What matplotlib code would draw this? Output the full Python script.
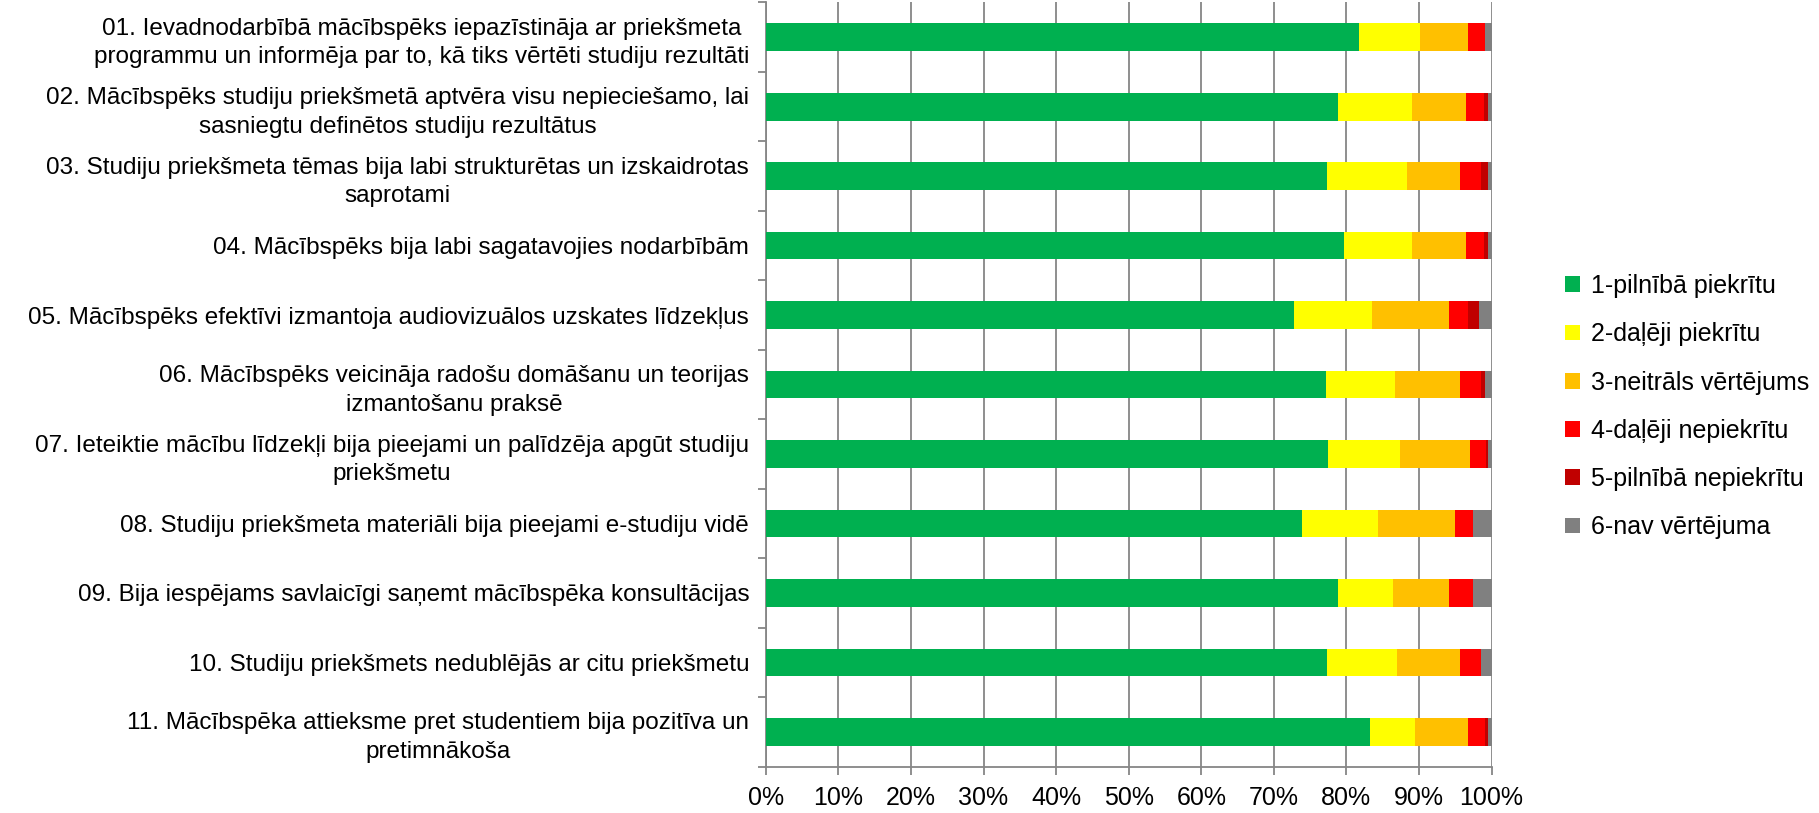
import numpy as np
import matplotlib
matplotlib.use("Agg")
import matplotlib.pyplot as plt
from matplotlib.ticker import PercentFormatter

plt.rcParams['font.family'] = ['Liberation Sans Narrow', 'Liberation Sans', 'DejaVu Sans']

questions = [
    "01. Ievadnodarbībā mācībspēks iepazīstināja ar priekšmeta\nprogrammu un informēja par to, kā tiks vērtēti studiju rezultāti",
    "02. Mācībspēks studiju priekšmetā aptvēra visu nepieciešamo, lai\nsasniegtu definētos studiju rezultātus",
    "03. Studiju priekšmeta tēmas bija labi strukturētas un izskaidrotas\nsaprotami",
    "04. Mācībspēks bija labi sagatavojies nodarbībām",
    "05. Mācībspēks efektīvi izmantoja audiovizuālos uzskates līdzekļus",
    "06. Mācībspēks veicināja radošu domāšanu un teorijas\nizmantošanu praksē",
    "07. Ieteiktie mācību līdzekļi bija pieejami un palīdzēja apgūt studiju\npriekšmetu",
    "08. Studiju priekšmeta materiāli bija pieejami e-studiju vidē",
    "09. Bija iespējams savlaicīgi saņemt mācībspēka konsultācijas",
    "10. Studiju priekšmets nedublējās ar citu priekšmetu",
    "11. Mācībspēka attieksme pret studentiem bija pozitīva un\npretimnākoša",
]

answers = ["1-pilnībā piekrītu", "2-daļēji piekrītu", "3-neitrāls vērtējums",
           "4-daļēji nepiekrītu", "5-pilnībā nepiekrītu", "6-nav vērtējuma"]
colors = ["#00B050", "#FFFF00", "#FFC000", "#FF0000", "#C00000", "#808080"]

# percent per answer, one list per question (01..11)
full_agree = [81.7, 78.9, 77.3, 79.7, 72.8, 77.2, 77.5, 73.9, 78.9, 77.3, 83.3]
part_agree = [8.5, 10.2, 11.0, 9.3, 10.7, 9.5, 9.9, 10.4, 7.5, 9.6, 6.2]
neutral = [6.6, 7.4, 7.3, 7.5, 10.7, 9.0, 9.6, 10.6, 7.8, 8.8, 7.2]
part_disagree = [2.3, 2.5, 2.9, 2.5, 2.6, 2.8, 2.3, 2.6, 3.3, 2.8, 2.4]
full_disagree = [0.0, 0.5, 1.0, 0.5, 1.5, 0.6, 0.2, 0.0, 0.0, 0.0, 0.4]
no_answer = [0.9, 0.5, 0.5, 0.5, 1.7, 0.9, 0.5, 2.5, 2.5, 1.5, 0.5]

series = np.array([full_agree, part_agree, neutral, part_disagree, full_disagree, no_answer])
shares = series / series.sum(axis=0) * 100

fig = plt.figure(figsize=(18.19, 8.13), dpi=100)
ax = fig.add_axes([0.421, 0.057, 0.399, 0.940])

y = np.arange(len(questions))
left = np.zeros(len(questions))
for vals, name, col in zip(shares, answers, colors):
    ax.barh(y, vals, left=left, height=0.4, color=col, label=name, zorder=3)
    left += vals

grid_col = "#868686"
ax.set_xlim(0, 100)
ax.set_ylim(len(questions) - 0.5, -0.5)
ax.set_xticks(np.arange(0, 101, 10))
ax.xaxis.set_major_formatter(PercentFormatter(decimals=0))
ax.grid(axis="x", color=grid_col, linewidth=1.3, zorder=0)

ax.set_yticks(y)
ax.set_yticklabels(questions, multialignment="center", fontsize=17.5, linespacing=1.4)
ax.set_yticks(np.arange(-0.5, len(questions), 1), minor=True)
ax.tick_params(axis="y", which="major", length=0, pad=12)
ax.tick_params(axis="y", which="minor", length=6, width=1.3, color=grid_col)
ax.tick_params(axis="x", length=6, width=1.3, color=grid_col, labelsize=18, pad=8)

for s in ["top", "right"]:
    ax.spines[s].set_visible(False)
for s in ["left", "bottom"]:
    ax.spines[s].set_color(grid_col)
    ax.spines[s].set_linewidth(1.3)

ax.legend(loc="center left", bbox_to_anchor=(1.07, 0.471), frameon=False,
          fontsize=18, handlelength=0.6, handleheight=0.6, labelspacing=0.97,
          handletextpad=0.45)

fig.savefig("out.png", dpi=100)
